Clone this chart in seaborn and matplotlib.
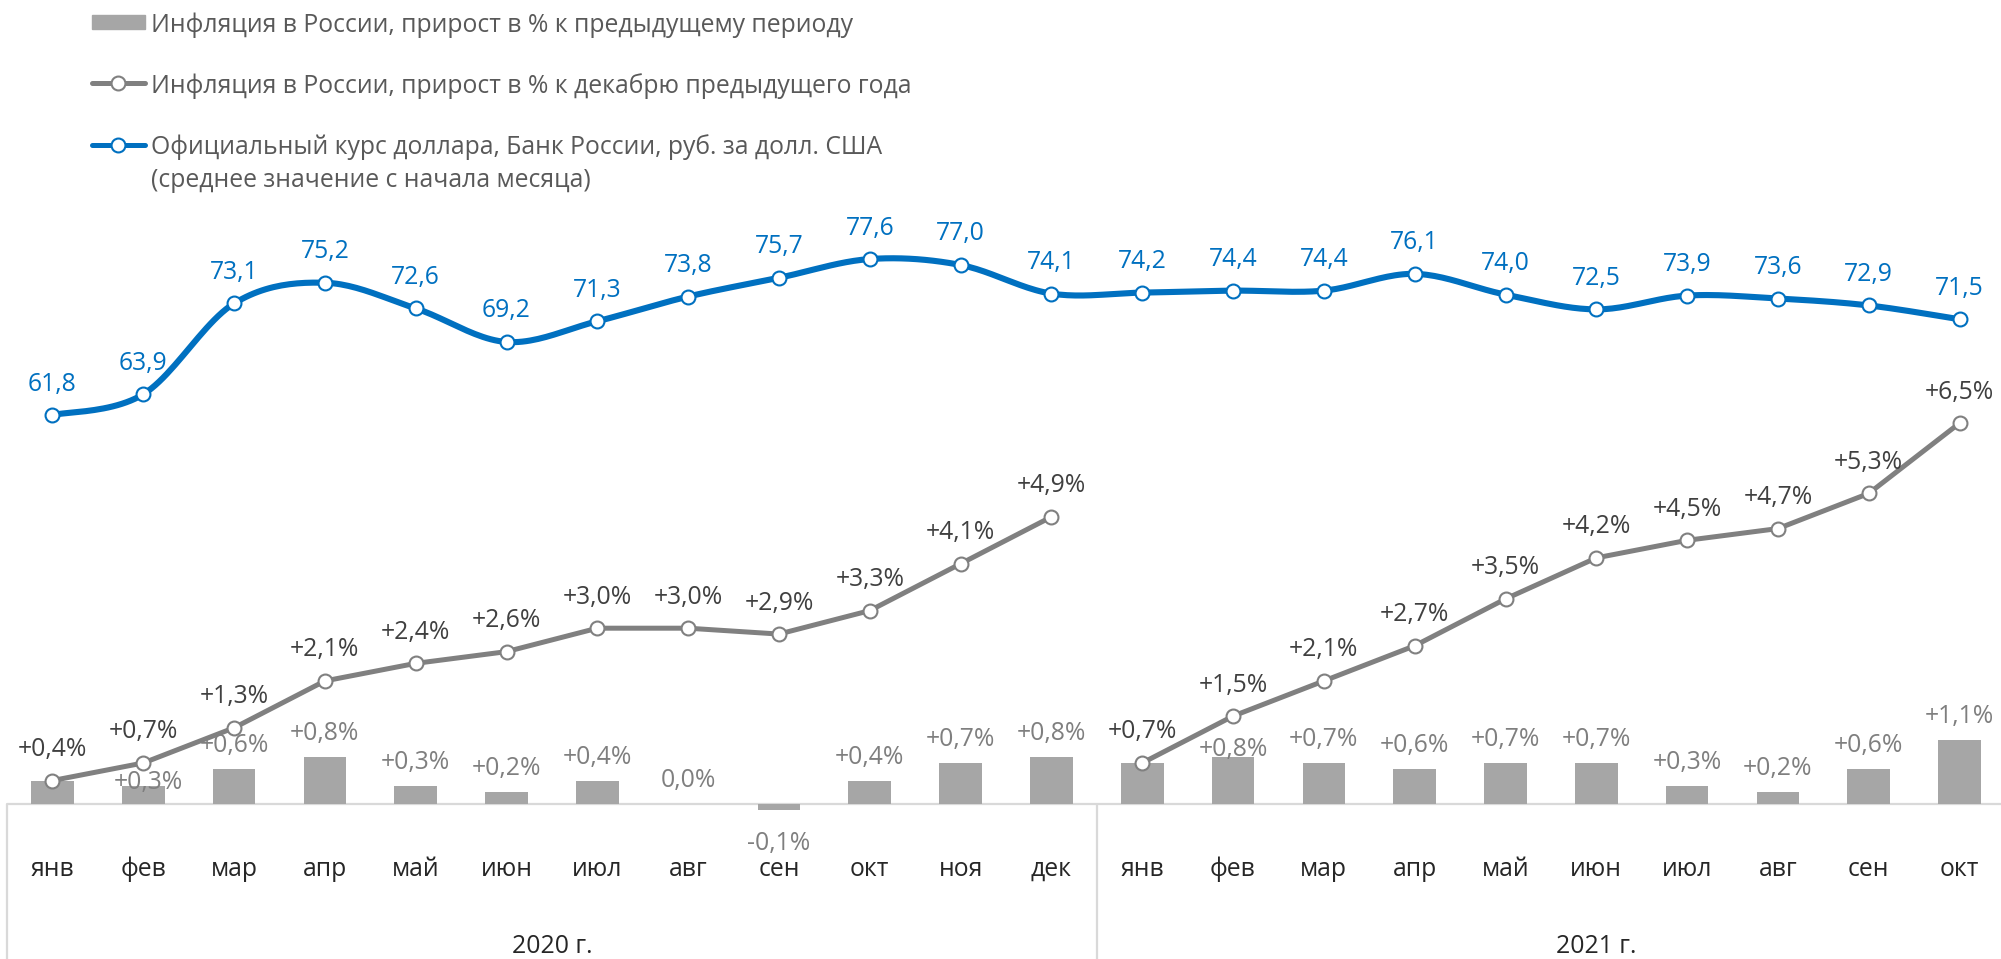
import numpy as np
import pandas as pd
import matplotlib
matplotlib.use("Agg")
import matplotlib.pyplot as plt
import seaborn as sns
from matplotlib.patches import Rectangle
from matplotlib.lines import Line2D

# ---------------- data ----------------
months_2020 = ["янв", "фев", "мар", "апр", "май", "июн", "июл", "авг", "сен", "окт", "ноя", "дек"]
months_2021 = ["янв", "фев", "мар", "апр", "май", "июн", "июл", "авг", "сен", "окт"]
years = ["2020 г.", "2021 г."]

infl_mom_2020 = [0.4, 0.3, 0.6, 0.8, 0.3, 0.2, 0.4, 0.0, -0.1, 0.4, 0.7, 0.8]
infl_mom_2021 = [0.7, 0.8, 0.7, 0.6, 0.7, 0.7, 0.3, 0.2, 0.6, 1.1]

infl_ytd_2020 = [0.4, 0.7, 1.3, 2.1, 2.4, 2.6, 3.0, 3.0, 2.9, 3.3, 4.1, 4.9]
infl_ytd_2021 = [0.7, 1.5, 2.1, 2.7, 3.5, 4.2, 4.5, 4.7, 5.3, 6.5]

usd_2020 = [61.8, 63.9, 73.1, 75.2, 72.6, 69.2, 71.3, 73.8, 75.7, 77.6, 77.0, 74.1]
usd_2021 = [74.2, 74.4, 74.4, 76.1, 74.0, 72.5, 73.9, 73.6, 72.9, 71.5]

legend_labels = [
    "Инфляция в России, прирост в % к предыдущему периоду",
    "Инфляция в России, прирост в % к декабрю предыдущего года",
    "Официальный курс доллара, Банк России, руб. за долл. США",
    "(среднее значение с начала месяца)",
]

# ---------------- style ----------------
BLUE = "#0070C0"
GREY_LINE = "#808080"
BAR = "#A6A6A6"
BAR_TXT = "#7F7F7F"
LINE_TXT = "#404040"
AXIS_TXT = "#262626"
LEG_TXT = "#595959"
FRAME = "#D9D9D9"
FS = 17.8

sns.set_theme(style="white")
plt.rcParams["font.family"] = ["Open Sans", "DejaVu Sans"]

W, H, DPI = 2001, 959, 100
fig = plt.figure(figsize=(W / DPI, H / DPI), dpi=DPI)
fig.patch.set_facecolor("white")

# axes geometry (pixels)
x_left_px, x_right_px = 7, 2005
zero_px, px_per_pct = 804, 58.6
usd_ref_val, usd_ref_px, px_per_rub = 61.8, 415, 9.87

ax = fig.add_axes([x_left_px / W, 0, (x_right_px - x_left_px) / W, 1])
ax.set_facecolor("none")

months = months_2020 + months_2021
mom = infl_mom_2020 + infl_mom_2021
n = len(months)
idx = np.arange(n)
df = pd.DataFrame({"idx": idx, "month": months, "mom": mom})

sns.barplot(data=df, x="idx", y="mom", order=list(idx), color=BAR, width=0.47,
            saturation=1, ax=ax, zorder=2, edgecolor="none")

ax.set_xlim(-0.5, n - 0.5)
ylo = -(H - zero_px) / px_per_pct
yhi = zero_px / px_per_pct
ax.set_ylim(ylo, yhi)
ax.axis("off")

ax2 = ax.twinx()
ax2.set_ylim(usd_ref_val - (H - usd_ref_px) / px_per_rub, usd_ref_val + usd_ref_px / px_per_rub)
ax2.axis("off")


def smooth(xs, ys, steps=24):
    P = np.column_stack([xs, ys]).astype(float)
    out = [P[0]]
    m = len(P)
    for i in range(m - 1):
        p0 = P[i - 1] if i > 0 else P[i]
        p3 = P[i + 2] if i + 2 < m else P[i + 1]
        c1 = P[i] + (P[i + 1] - p0) / 6.0
        c2 = P[i + 1] - (p3 - P[i]) / 6.0
        t = np.linspace(0, 1, steps)[1:, None]
        seg = ((1 - t) ** 3) * P[i] + 3 * ((1 - t) ** 2) * t * c1 + 3 * (1 - t) * t ** 2 * c2 + t ** 3 * P[i + 1]
        out.extend(seg)
    out = np.array(out)
    return out[:, 0], out[:, 1]


# frame lines
ax.plot([-0.5, n - 0.5], [0, 0], color=FRAME, lw=1.6, zorder=1, clip_on=False)
ax.vlines([-0.5, len(months_2020) - 0.5], ylo, 0, color=FRAME, lw=1.6, zorder=1, clip_on=False)

# cumulative inflation line (two segments, straight)
segments = [(np.arange(len(infl_ytd_2020)), infl_ytd_2020),
            (np.arange(len(infl_ytd_2021)) + len(months_2020), infl_ytd_2021)]
for xs, ys in segments:
    sns.lineplot(x=xs, y=ys, ax=ax, color=GREY_LINE, lw=3.6, zorder=4, legend=False)
    sns.scatterplot(x=xs, y=ys, ax=ax, s=100, color="white", edgecolor=GREY_LINE,
                    linewidth=1.5, zorder=5, legend=False)
    for x, y in zip(xs, ys):
        ax.annotate(f"{y:+.1f}%".replace(".", ","), (x, y), xytext=(0, 24.5),
                    textcoords="offset pixels", ha="center", va="baseline",
                    fontsize=FS, color=LINE_TXT, zorder=6)

# usd line (smoothed)
usd = usd_2020 + usd_2021
sx, sy = smooth(idx, usd)
ax2.plot(sx, sy, color=BLUE, lw=4.4, zorder=4, solid_capstyle="round")
sns.scatterplot(x=idx, y=usd, ax=ax2, s=100, color="white", edgecolor=BLUE,
                linewidth=1.5, zorder=5, legend=False)
for x, y in zip(idx, usd):
    ax2.annotate(f"{y:.1f}".replace(".", ","), (x, y), xytext=(0, 24.5),
                 textcoords="offset pixels", ha="center", va="baseline",
                 fontsize=FS, color=BLUE, zorder=6)

# bar labels (January values coincide with cumulative labels)
nudge = {1: (5, -3), 13: (0, 1)}
for i, v in enumerate(mom):
    if i in (0, len(months_2020)):
        continue
    if v < 0:
        off = (0, -40)
        txt = f"{v:.1f}%".replace(".", ",")
    else:
        off = nudge.get(i, (0, 17))
        txt = (f"{v:+.1f}%" if v > 0 else f"{v:.1f}%").replace(".", ",")
    ax.annotate(txt, (i, v), xytext=off, textcoords="offset pixels", ha="center",
                va="baseline", fontsize=FS, color=BAR_TXT, zorder=3)

# category labels
month_y = (zero_px - 876) / px_per_pct
year_y = (zero_px - 953) / px_per_pct
for i, mname in enumerate(months):
    ax.text(i, month_y, mname, ha="center", va="baseline", fontsize=FS, color=AXIS_TXT)
year_centers = [(len(months_2020) - 1) / 2, len(months_2020) + (len(months_2021) - 1) / 2 + 0.5]
for xc, yl in zip(year_centers, years):
    ax.text(xc, year_y, yl, ha="center", va="baseline", fontsize=FS, color=AXIS_TXT)

# legend (manual)
def fy(py):
    return 1 - py / H

def fx(px):
    return px / W

fig.patches.append(Rectangle((fx(92), fy(29)), fx(145) - fx(92), fy(15) - fy(29),
                             transform=fig.transFigure, color=BAR, figure=fig))
for yc, col in [(83, GREY_LINE), (145, BLUE)]:
    fig.lines.append(Line2D([fx(92), fx(145)], [fy(yc), fy(yc)], transform=fig.transFigure,
                            color=col, lw=3.6, figure=fig))
    fig.lines.append(Line2D([fx(118)], [fy(yc)], transform=fig.transFigure, marker="o",
                            markersize=10, markerfacecolor="white", markeredgecolor=col,
                            markeredgewidth=1.5, color=col, figure=fig))
for lab, by in zip(legend_labels, [31.7, 92.7, 154, 187]):
    fig.text(fx(151), fy(by), lab, ha="left", va="baseline", fontsize=FS, color=LEG_TXT)

fig.savefig("out.png", dpi=DPI, facecolor="white")
